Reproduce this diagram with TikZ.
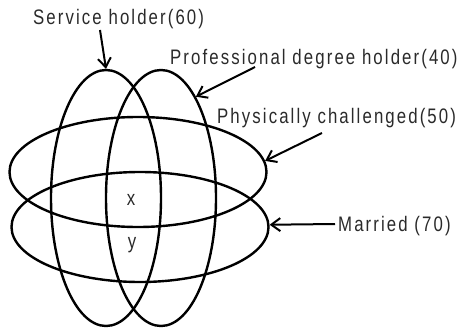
\documentclass[tikz,border=0pt]{standalone}
\usepackage{fontspec}
\usetikzlibrary{shapes.geometric,arrows.meta}
\newfontfamily\lblfont[FakeStretch=0.8,LetterSpace=10]{Liberation Sans}
\definecolor{txtgray}{HTML}{2A2A2A}
\begin{document}
\begin{tikzpicture}[x=1pt,y=-1pt,
  ring/.style={draw=black,ellipse,inner sep=0pt,line width=2.4pt},
  lbl/.style={inner sep=0pt,text=txtgray,font=\lblfont\fontsize{21pt}{23pt}\selectfont},
  arr/.style={draw=black,line width=2pt,-{Straight Barb[length=9pt,width=13pt,line width=2pt]}}]
\useasboundingbox (0,0) rectangle (460,329);
% vertical ellipses
\node[ring,minimum width=110pt,minimum height=256pt] (e1) at (106,198) {};
\node[ring,minimum width=110pt,minimum height=256pt] (e2) at (161,198) {};
% horizontal ellipses
\node[ring,minimum width=257pt,minimum height=110pt] (e3) at (138,172) {};
\node[ring,minimum width=257pt,minimum height=110pt] (e4) at (140,227) {};
% labels
\node[lbl,anchor=base west] (sh) at (33,25) {Service holder(60)};
\node[lbl,anchor=base west] (pd) at (170,64) {Professional degree holder(40)};
\node[lbl,anchor=base west] (pc) at (217,123) {Physically challenged(50)};
\node[lbl,anchor=base west] (ma) at (338,231) {Married (70)};
\node[lbl,anchor=base] (x) at (131,205) {x};
\node[lbl,anchor=base] (y) at (132,248) {y};
% arrow start points
\coordinate (s1) at (100,30);
\coordinate (p1) at (255,67);
\coordinate (c1) at (322,133);
\coordinate (m1) at (335,224);
\draw[arr] (s1) -- (e1.north);
\draw[arr] (p1) -- (e2.71);
\draw[arr] (c1) -- (e3.5);
\draw[arr] (m1) -- (e4.1);
\end{tikzpicture}
\end{document}
